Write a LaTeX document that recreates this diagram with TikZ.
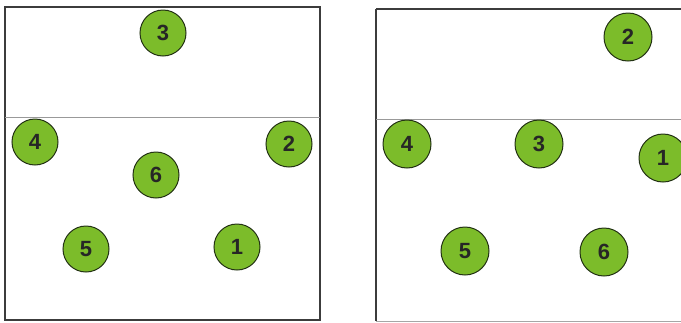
\documentclass[tikz,border=0pt]{standalone}
\usepackage{fontspec}
\setmainfont{Liberation Sans}
\usepackage{xcolor}
\usetikzlibrary{positioning}
\definecolor{playergreen}{RGB}{124,188,42}
\definecolor{playerrim}{RGB}{35,50,20}
\definecolor{courtgray}{RGB}{60,60,60}
\tikzset{
  player/.style={circle, draw=playerrim, fill=playergreen, line width=1pt,
                 minimum size=46pt, inner sep=0pt,
                 font=\fontsize{22}{22}\selectfont\bfseries, text=black!85},
  court/.style={draw=courtgray, line width=1.6pt},
  netline/.style={draw=gray!80, line width=0.6pt}
}

\begin{document}
\begin{tikzpicture}[x=1pt, y=-1pt]
  \useasboundingbox (0,0) rectangle (681,322);
  \clip (0,0) rectangle (681,322);

  % left court
  \draw[court] (5,7) rectangle (320,320);
  \draw[netline] (5,117) -- (320,117);

  % left court players
  \node[player] (l3) at (163,33)  {3};
  \node[player] (l4) at (35,142)  {4};
  \node[player] (l2) at (289,144) {2};
  \node[player] (l6) at (156,175) {6};
  \node[player] (l5) at (86,249)  {5};
  \node[player] (l1) at (237,247) {1};

  % right court (cut off at the right)
  \draw[court] (376,9) -- (376,321);
  \draw[court] (376,9) -- (690,9);
  \draw[netline] (376,119) -- (690,119);
  \draw[draw=gray!70, line width=1pt] (376,321) -- (690,321);

  % right court players
  \node[player, minimum size=48pt] (r2) at (628,37)  {2};
  \node[player, minimum size=48pt] (r4) at (407,144) {4};
  \node[player, minimum size=48pt] (r3) at (539,144) {3};
  \node[player, minimum size=48pt] (r1) at (663,158) {1};
  \node[player, minimum size=48pt] (r5) at (465,251) {5};
  \node[player, minimum size=48pt] (r6) at (604,252) {6};

\end{tikzpicture}
\end{document}
